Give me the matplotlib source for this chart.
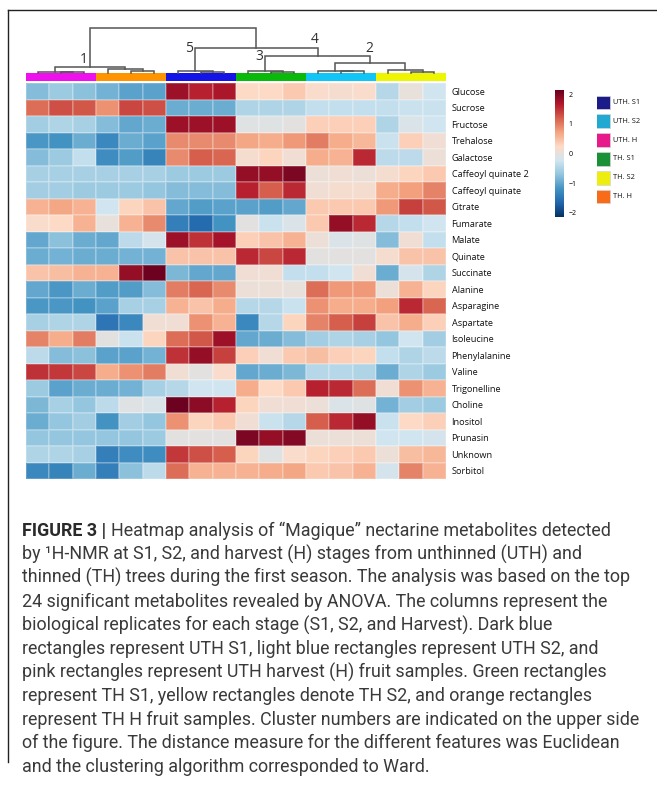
import matplotlib
matplotlib.use("Agg")
import matplotlib.pyplot as plt
import numpy as np
from matplotlib import font_manager
from matplotlib.colors import LinearSegmentedColormap
from matplotlib.lines import Line2D

metabolites = ["Glucose", "Sucrose", "Fructose", "Trehalose", "Galactose",
               "Caffeoyl quinate 2", "Caffeoyl quinate", "Citrate", "Fumarate",
               "Malate", "Quinate", "Succinate", "Alanine", "Asparagine",
               "Aspartate", "Isoleucine", "Phenylalanine", "Valine",
               "Trigonelline", "Choline", "Inositol", "Prunasin", "Unknown",
               "Sorbitol"]

# column groups, left to right (3 replicates each)
col_groups = ["UTH. H", "TH. H", "UTH. S1", "TH. S1", "UTH. S2", "TH. S2"]
strip_colors = ["#ee11ee", "#ff9400", "#1414e6", "#0aba0a", "#11c6f6", "#eef500"]

legend_labels = ["UTH. S1", "UTH. S2", "UTH. H", "TH. S1", "TH. S2", "TH. H"]
legend_colors = ["#1b1b8a", "#22a9d1", "#e8198b", "#1a9136", "#eded10", "#f86b18"]

# autoscaled concentrations, one row per metabolite, 18 samples
glucose = [-0.8, -0.65, -0.75, -0.9, -1.05, -1.05, 1.8, 1.6, 1.7, 0.25, 0.25, 0.4, 0.2, 0.15, 0.2, -0.45, 0.0, -0.25]
sucrose = [1.1, 1.3, 1.25, 0.85, 1.35, 1.3, -0.95, -0.95, -0.95, -0.5, -0.5, -0.5, -0.35, -0.35, -0.35, -0.35, -0.3, -0.3]
fructose = [-0.6, -0.5, -0.55, -0.8, -1.0, -0.95, 1.8, 1.8, 1.8, -0.1, -0.1, -0.05, 0.35, 0.35, 0.35, -0.5, -0.15, -0.25]
trehalose = [-1.15, -1.2, -0.95, -1.3, -0.95, -1.05, 0.9, 0.9, 0.9, 0.7, 0.65, 0.8, 1.0, 0.65, 0.55, -0.3, 0.35, 0.1]
galactose = [-0.8, -0.65, -0.35, -1.25, -1.1, -1.35, 0.9, 1.2, 1.15, 0.15, 0.3, 0.1, 0.65, 0.6, 1.55, -0.4, -0.4, 0.05]
caff_quin2 = [-0.55, -0.55, -0.55, -0.55, -0.55, -0.55, -0.65, -0.65, -0.65, 1.85, 1.85, 2.0, 0.05, 0.1, 0.05, 0.15, 0.3, 0.4]
caff_quin = [-0.6, -0.6, -0.65, -0.65, -0.65, -0.7, -0.8, -0.8, -0.8, 1.6, 1.2, 1.55, 0.1, 0.15, 0.15, 0.65, 0.75, 0.95]
citrate = [0.6, 0.7, 0.6, -0.25, 0.3, 0.45, -1.0, -1.1, -1.05, -1.05, -1.1, -1.0, 0.4, 0.4, 0.4, 0.8, 1.4, 1.25]
fumarate = [0.2, 0.25, 0.6, 0.0, 0.6, 0.9, -1.4, -1.6, -1.2, -0.05, -0.3, -0.15, 0.4, 1.85, 1.55, -0.45, -0.35, -0.25]
malate = [-1.0, -0.75, -0.95, -1.0, -0.4, -0.2, 1.8, 1.5, 1.75, 0.35, 0.45, 0.6, 0.05, -0.15, -0.1, -0.8, 0.1, -0.35]
quinate = [-0.95, -0.9, -0.95, -0.95, -0.9, -0.9, 0.45, 0.45, 0.45, 1.55, 1.35, 1.55, -0.05, -0.05, -0.05, 0.15, 0.45, 0.45]
succinate = [0.45, 0.5, 0.6, 0.6, 1.85, 2.1, -0.85, -1.0, -1.0, 0.1, 0.1, -0.35, -0.35, -0.25, 0.1, -0.95, -0.2, -0.5]
alanine = [-1.0, -1.15, -0.95, -1.1, -1.1, -0.8, 1.0, 1.15, 0.9, 0.05, 0.05, 0.0, 1.1, 0.8, 0.8, 0.05, 0.6, 0.3]
asparagine = [-1.15, -1.15, -1.2, -1.05, -0.55, -0.55, 0.6, 0.45, 0.65, -0.45, -0.45, -0.3, 0.85, 0.65, 0.65, 0.75, 1.55, 1.15]
aspartate = [-0.55, -0.5, -0.5, -1.5, -1.3, 0.1, 0.1, 0.85, 0.6, -1.3, -0.45, 0.3, 0.95, 1.2, 1.4, 0.45, 0.65, 0.35]
isoleucine = [0.95, 0.65, 1.0, -0.05, -0.3, 0.3, 1.1, 1.25, 1.8, -1.0, -0.95, -0.8, -0.6, -0.5, -0.55, -0.7, -0.25, -0.6]
phenylalanine = [-0.4, -0.8, -0.75, -1.05, -1.05, -0.9, 1.5, 1.85, 1.4, 0.35, 0.1, 0.4, 0.5, 0.35, 0.3, -0.35, -0.5, -0.4]
valine = [1.5, 1.45, 1.35, 0.65, 0.85, 1.0, 0.1, -0.05, 0.2, -1.0, -0.95, -0.85, -0.45, -0.45, -0.5, -0.95, -0.5, -0.65]
trigonelline = [-0.65, -1.05, -0.95, -0.95, -0.9, -0.55, -0.45, -0.25, -0.25, 0.65, 0.25, 0.4, 1.6, 1.55, 1.1, 0.1, 0.85, 0.6]
choline = [-0.85, -0.55, -0.7, -0.4, -0.1, -0.15, 2.1, 1.9, 1.6, 0.3, 0.1, 0.1, 0.05, -0.15, -0.1, -0.9, -0.6, -0.65]
inositol = [-0.95, -0.7, -0.6, -1.2, -0.6, -0.7, 0.85, 0.3, 0.4, 0.1, -0.3, -0.45, 1.2, 1.55, 1.85, -0.3, 0.25, 0.35]
prunasin = [-0.7, -0.7, -0.7, -0.7, -0.7, -0.65, -0.05, -0.05, -0.05, 2.0, 1.85, 1.95, 0.05, 0.05, 0.05, -0.25, -0.25, -0.2]
unknown = [-0.5, -0.5, -0.55, -1.4, -1.25, -1.25, 1.45, 1.3, 1.2, 0.3, -0.1, 0.2, 0.3, 0.35, 0.4, 0.05, 0.5, 0.55]
sorbitol = [-1.3, -1.35, -0.95, -1.4, -0.75, -0.4, 1.1, 0.6, 0.6, 0.6, 0.65, 0.7, 0.4, 0.45, 0.6, -0.2, 0.95, 0.6]

data = np.array([glucose, sucrose, fructose, trehalose, galactose, caff_quin2,
                 caff_quin, citrate, fumarate, malate, quinate, succinate,
                 alanine, asparagine, aspartate, isoleucine, phenylalanine,
                 valine, trigonelline, choline, inositol, prunasin, unknown,
                 sorbitol])

# sample dendrogram (Ward): (left node, right node, height); leaves are 0..17
merges = [(1, 2, 3), (0, 18, 5), (4, 5, 8), (3, 20, 12), (19, 21, 18),
          (7, 8, 4), (6, 23, 6), (10, 11, 5), (9, 25, 8), (13, 14, 7),
          (12, 27, 8), (16, 17, 5), (15, 29, 10), (28, 30, 30), (26, 31, 52),
          (24, 32, 75), (22, 33, 135)]
cluster_ids = ["1", "5", "3", "4", "2"]
cluster_x = [2.46, 7.0, 10.0, 12.39, 14.71]
cluster_h = [40, 75, 50, 100, 75]

caption_lines = [
    "Heatmap analysis of \u201cMagique\u201d nectarine metabolites detected",
    "by \u00b9H-NMR at S1, S2, and harvest (H) stages from unthinned (UTH) and",
    "thinned (TH) trees during the first season. The analysis was based on the top",
    "24 significant metabolites revealed by ANOVA. The columns represent the",
    "biological replicates for each stage (S1, S2, and Harvest). Dark blue",
    "rectangles represent UTH S1, light blue rectangles represent UTH S2, and",
    "pink rectangles represent UTH harvest (H) fruit samples. Green rectangles",
    "represent TH S1, yellow rectangles denote TH S2, and orange rectangles",
    "represent TH H fruit samples. Cluster numbers are indicated on the upper side",
    "of the figure. The distance measure for the different features was Euclidean",
    "and the clustering algorithm corresponded to Ward.",
]

W, H = 657, 802
fig = plt.figure(figsize=(W / 100, H / 100), dpi=100)
fig.patch.set_facecolor("white")


def box(x0, y0, x1, y1):
    # pixel box (top-left origin) -> figure fraction rect
    return [x0 / W, 1 - y1 / H, (x1 - x0) / W, (y1 - y0) / H]


def pick_font(names):
    for n in names:
        try:
            font_manager.findfont(n, fallback_to_default=False)
            return n
        except Exception:
            continue
    return "DejaVu Sans"


label_font = pick_font(["Open Sans", "Noto Sans"])
cap_font = pick_font(["Liberation Sans Narrow", "Roboto", "Liberation Sans"])

# 10-class RdBu, reversed (no white centre class)
cmap = LinearSegmentedColormap.from_list(
    "rdbu10", ["#053061", "#2166ac", "#4393c3", "#92c5de", "#d1e5f0",
               "#fddbc7", "#f4a582", "#d6604d", "#b2182b", "#67001f"])

# heatmap
ax = fig.add_axes(box(26, 83, 446, 479))
mesh = ax.pcolormesh(np.arange(data.shape[1] + 1), np.arange(data.shape[0] + 1),
                     data, cmap=cmap, vmin=-2.15, vmax=2.15,
                     edgecolors=(1, 1, 1, 0.2), linewidth=0.3)
ax.set_xlim(0, data.shape[1])
ax.set_ylim(data.shape[0], 0)
ax.set_xticks([])
ax.set_yticks(np.arange(len(metabolites)) + 0.5)
ax.set_yticklabels(metabolites, fontsize=6.6, family=label_font, color="#111")
ax.yaxis.tick_right()
ax.tick_params(axis="y", length=0, pad=4)
for s in ax.spines.values():
    s.set_visible(False)

# group colour strip
ax_s = fig.add_axes(box(26, 73.3, 446, 81))
ax_s.bar(np.arange(len(col_groups)) * 3 + 1.5, 1, width=3, color=strip_colors)
ax_s.set_xlim(0, 18)
ax_s.set_ylim(0, 1)
ax_s.axis("off")

# dendrogram
ax_d = fig.add_axes(box(26, 28.3, 446, 73.3))
node_x = list(np.arange(18) + 0.5)
node_h = [0.0] * 18
for a, b, h in merges:
    ax_d.plot([node_x[a], node_x[a], node_x[b], node_x[b]],
              [node_h[a], h, h, node_h[b]], color="#555555", lw=1.1,
              clip_on=False, solid_joinstyle="miter")
    node_x.append((node_x[a] + node_x[b]) / 2)
    node_h.append(h)
for lab, cx, ch in zip(cluster_ids, cluster_x, cluster_h):
    ax_d.text(cx, ch, lab, ha="center", va="center", fontsize=10,
              family=label_font, color="#333")
ax_d.set_xlim(0, 18)
ax_d.set_ylim(0, 135)
ax_d.axis("off")

# colour key
cax = fig.add_axes(box(555, 90, 564, 217))
cb = fig.colorbar(mesh, cax=cax, ticks=[-2, -1, 0, 1, 2])
cb.outline.set_visible(False)
cb.ax.tick_params(length=0, labelsize=5, pad=3)
for t in cb.ax.get_yticklabels():
    t.set_family(label_font)

# group legend
ax_l = fig.add_axes(box(597, 93, 657, 206))
ypos = np.arange(len(legend_labels))
ax_l.scatter(np.zeros(len(ypos)), ypos, marker="s", s=95, c=legend_colors,
             edgecolors="#d5d5d5", linewidths=0.5)
for y, lab in zip(ypos, legend_labels):
    ax_l.text(0.95, y, lab, va="center", ha="left", fontsize=5.3,
              family=label_font, color="#111")
ax_l.set_xlim(-0.55, 5)
ax_l.set_ylim(len(ypos) - 0.5, -0.5)
ax_l.axis("off")

# frame
fig.add_artist(Line2D([8 / W, 1], [1 - 10 / H, 1 - 10 / H],
                      transform=fig.transFigure, color="#222", lw=1))
fig.add_artist(Line2D([8 / W, 8 / W], [1 - 10 / H, 1 - 762 / H],
                      transform=fig.transFigure, color="#222", lw=1))

# caption
renderer = fig.canvas.get_renderer()
probe = fig.text(0, 0, caption_lines[8], fontsize=10, family=cap_font)
w10 = probe.get_window_extent(renderer).width
probe.remove()
cap_size = 10 * 618 / w10

x0 = 22
for i, line in enumerate(caption_lines):
    yb = 1 - (536 + 23.6 * i) / H
    xs = x0 / W
    if i == 0:
        t = fig.text(xs, yb, "FIGURE 3 | ", fontsize=cap_size, family=cap_font,
                     weight="bold", color="#2a2a2a", va="baseline")
        xs += t.get_window_extent(renderer).width / W
    fig.text(xs, yb, line, fontsize=cap_size, family=cap_font,
             color="#3a3a3a", va="baseline")

fig.savefig("out.png", dpi=100, facecolor="white")
